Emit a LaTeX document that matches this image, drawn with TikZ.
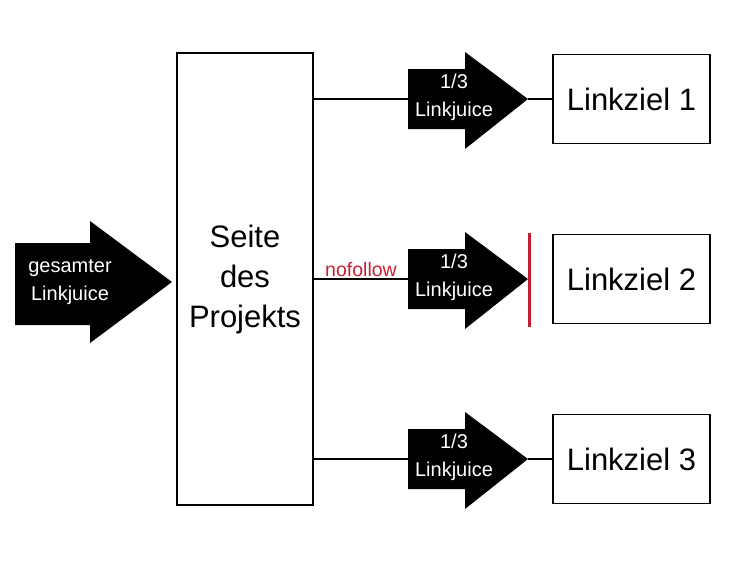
\documentclass[tikz,border=0pt]{standalone}
\usepackage{fontspec}
\setmainfont{Liberation Sans}
\definecolor{nored}{RGB}{200,30,50}
\begin{document}
\begin{tikzpicture}[x=1pt,y=-1pt,
  box/.style={draw,line width=1.2pt,inner sep=0pt,font=\fontsize{31}{40}\selectfont},
  arr/.style={fill=black},
  atext/.style={text=white,align=center,font=\fontsize{20}{28}\selectfont},
  conn/.style={line width=1.2pt}]
\useasboundingbox (0,0) rectangle (750,563);
\node[box,minimum width=136pt,minimum height=452pt,align=center] (seite) at (245,279) {Seite\\des\\Projekts};
\fill[arr] (15,243) -- (90,243) -- (90,221) -- (172,282) -- (90,343) -- (90,325) -- (15,325) -- cycle;
\node[atext] (ges) at (70,282) {gesamter\\Linkjuice};
\foreach \y/\n in {99/1,279/2,459/3}{
  \fill[arr] (408,\y-30) -- (465,\y-30) -- (465,\y-47) -- (528,\y) -- (465,\y+50) -- (465,\y+30) -- (408,\y+30) -- cycle;
  \node[atext] (lj\n) at (454,\y-2) {1/3\\Linkjuice};
  \coordinate (s\n) at (408,\y);
  \coordinate (t\n) at (528,\y);
  \node[box,minimum width=157pt,minimum height=89pt] (z\n) at (631.5,\y) {Linkziel \n};
  \draw[conn] (seite.east |- s\n) -- (s\n);
}
\draw[conn] (t1) -- (z1.west);
\draw[conn] (t3) -- (z3.west);
\coordinate (ra) at (529,233);
\coordinate (rb) at (529,327);
\draw[nored,line width=3pt] (ra) -- (rb);
\node[text=nored,font=\fontsize{19.5}{22}\selectfont,anchor=south,inner sep=2pt] (nf) at (361,279) {nofollow};
\end{tikzpicture}
\end{document}
